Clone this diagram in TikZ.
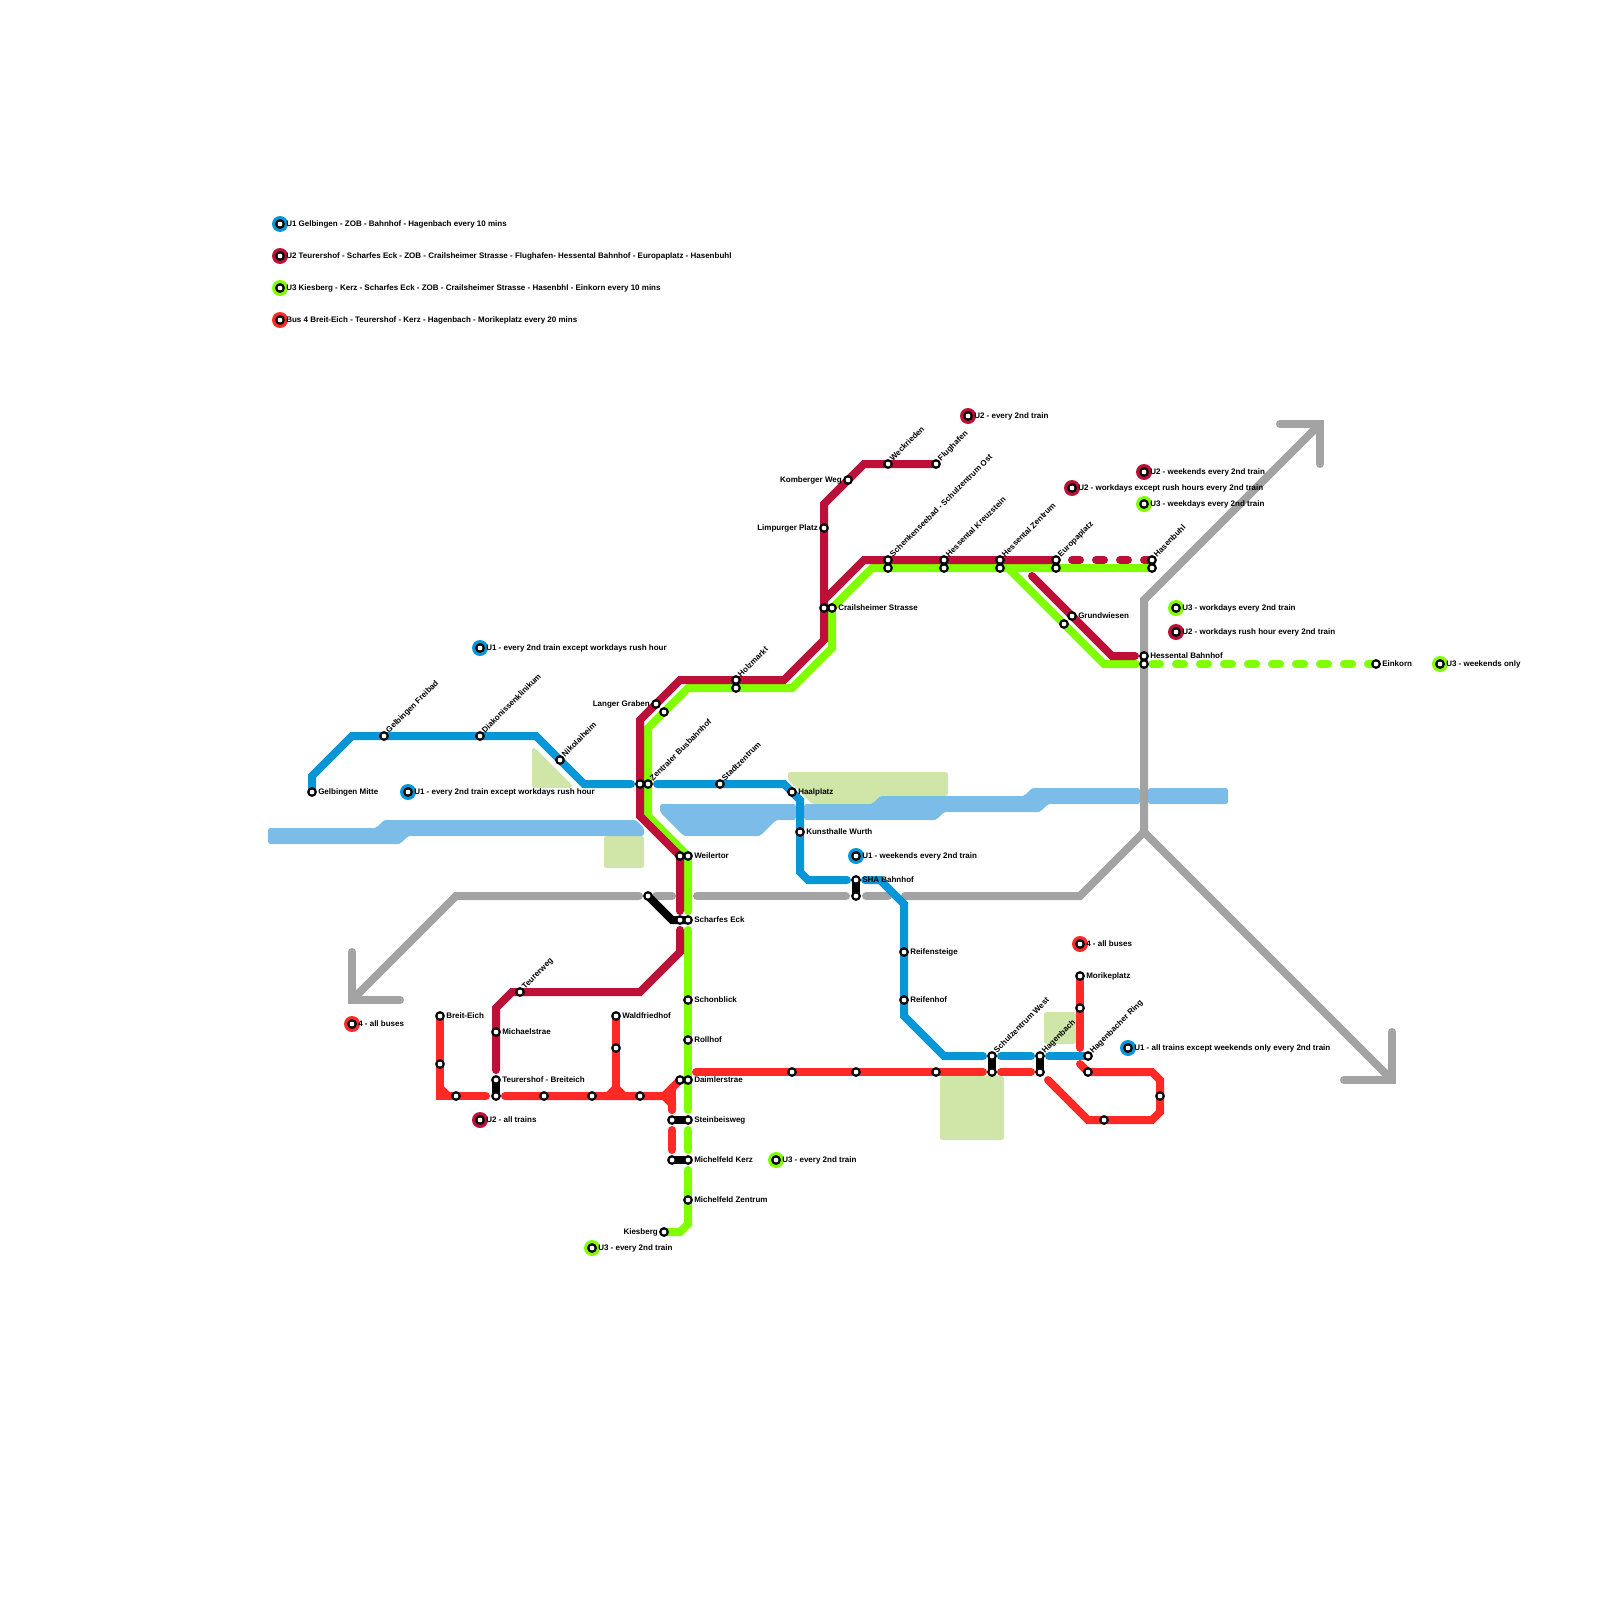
\documentclass[tikz,border=0pt]{standalone}
\usepackage{fontspec}
\setmainfont{Liberation Sans}
\usetikzlibrary{backgrounds}
\definecolor{cuone}{HTML}{0896D7}
\definecolor{cutwo}{HTML}{BD1038}
\definecolor{cuthree}{HTML}{80FF00}
\definecolor{cbus}{HTML}{FF2A26}
\definecolor{cgrey}{HTML}{A3A3A3}
\definecolor{cwater}{HTML}{7BBDE8}
\definecolor{cpark}{HTML}{D0E6A8}
\tikzset{
  x=1pt,y=-1pt,
  stn/.style={circle,draw=black,fill=white,line width=2.2pt,minimum size=7.5pt,inner sep=0pt,outer sep=0pt},
  lblbase/.style={font=\fontsize{8}{8}\selectfont\bfseries,inner sep=0pt,text height=6pt,text depth=2pt,text=black},
  lblr/.style={lblbase,anchor=west},
  lbll/.style={lblbase,anchor=east},
  lblu/.style={lblbase,anchor=west,xshift=1pt,yshift=-1pt,rotate=45},
  label distance=2.3pt,
  track/.style={line width=8pt,line cap=round,line join=miter},
  lone/.style={track,draw=cuone},
  ltwo/.style={track,draw=cutwo},
  lthree/.style={track,draw=cuthree},
  lbus/.style={track,draw=cbus},
  lgrey/.style={track,draw=cgrey},
  link/.style={line width=8pt,line cap=butt,line join=miter,draw=black},
  dashes/.style={dash pattern=on 8pt off 16pt},
  water/.style={fill=cwater,rounded corners=2.5pt},
  park/.style={fill=cpark,rounded corners=2.5pt},
  disc/.style={circle,minimum size=16pt,inner sep=0pt,outer sep=0pt},
}
\newcommand\stR[4]{\node[stn,label={[lblr]right:#4}] (#1) at (#2,#3) {};}
\newcommand\stL[4]{\node[stn,label={[lbll]left:#4}] (#1) at (#2,#3) {};}
\newcommand\stU[4]{\node[stn,label={[lblu]45:#4}] (#1) at (#2,#3) {};}
\newcommand\stN[3]{\node[stn] (#1) at (#2,#3) {};}
\newcommand\leg[5]{\node[disc,fill=#2] (d#1) at (#3,#4) {};\stR{#1}{#3}{#4}{#5}}
\begin{document}
\begin{tikzpicture}
\useasboundingbox (0,0) rectangle (1600,1600);

% legend
\leg{la}{cuone}{280}{224}{U1 Gelbingen - ZOB - Bahnhof - Hagenbach every 10 mins}
\leg{lb}{cutwo}{280}{256}{U2 Teurershof - Scharfes Eck - ZOB - Crailsheimer Strasse - Flughafen- Hessental Bahnhof - Europaplatz - Hasenbuhl}
\leg{lc}{cuthree}{280}{288}{U3 Kiesberg - Kerz - Scharfes Eck - ZOB - Crailsheimer Strasse - Hasenbhl - Einkorn every 10 mins}
\leg{ld}{cbus}{280}{320}{Bus 4 Breit-Eich - Teurershof - Kerz - Hagenbach - Morikeplatz every 20 mins}
\leg{ne}{cuone}{480}{648}{U1 - every 2nd train except workdays rush hour}
\leg{nf}{cuone}{408}{792}{U1 - every 2nd train except workdays rush hour}
\leg{ng}{cuone}{856}{856}{U1 - weekends every 2nd train}
\leg{nh}{cutwo}{480}{1120}{U2 - all trains}
\leg{ni}{cbus}{352}{1024}{4 - all buses}
\leg{nj}{cuthree}{592}{1248}{U3 - every 2nd train}
\leg{nk}{cuthree}{776}{1160}{U3 - every 2nd train}
\leg{nl}{cbus}{1080}{944}{4 - all buses}
\leg{nm}{cuone}{1128}{1048}{U1 - all trains except weekends only every 2nd train}
\leg{nn}{cutwo}{968}{416}{U2 - every 2nd train}
\leg{no}{cutwo}{1144}{472}{U2 - weekends every 2nd train}
\leg{np}{cutwo}{1072}{488}{U2 - workdays except rush hours every 2nd train}
\leg{nq}{cuthree}{1144}{504}{U3 - weekdays every 2nd train}
\leg{nr}{cuthree}{1176}{608}{U3 - workdays every 2nd train}
\leg{ns}{cutwo}{1176}{632}{U2 - workdays rush hour every 2nd train}
\leg{nt}{cuthree}{1440}{664}{U3 - weekends only}

% stations
\stR{gelbmitte}{312}{792}{Gelbingen Mitte}
\stU{freibad}{384}{736}{Gelbingen Freibad}
\stU{diakon}{480}{736}{Diakonissenklinikum}
\stU{nikolai}{560}{760}{Nikolaiheim}
\stN{zobA}{640}{784}
\stU{zobB}{648}{784}{Zentraler Busbahnhof}
\stU{stadtz}{720}{784}{Stadtzentrum}
\stR{haal}{792}{792}{Haalplatz}
\stR{kunst}{800}{832}{Kunsthalle Wurth}
\stR{sha}{856}{880}{SHA Bahnhof}
\stN{shaB}{856}{896}
\stR{reifens}{904}{952}{Reifensteige}
\stR{reifenh}{904}{1000}{Reifenhof}
\stU{schulW}{992}{1056}{Schulzentrum West}
\stN{schulWb}{992}{1072}
\stU{hagen}{1040}{1056}{Hagenbach}
\stN{hagenb}{1040}{1072}
\stU{hagring}{1088}{1056}{Hagenbacher Ring}
\stN{hagringb}{1088}{1072}

\stL{langer}{656}{704}{Langer Graben}
\stN{langerb}{664}{712}
\stU{holz}{736}{680}{Holzmarkt}
\stN{holzb}{736}{688}
\stN{weilA}{680}{856}
\stR{weilB}{688}{856}{Weilertor}
\stN{bahnlink}{648}{896}
\stN{eckA}{680}{920}
\stR{eckB}{688}{920}{Scharfes Eck}
\stR{schon}{688}{1000}{Schonblick}
\stR{roll}{688}{1040}{Rollhof}
\stN{daimA}{680}{1080}
\stR{daimB}{688}{1080}{Daimlerstrae}
\stN{steinA}{672}{1120}
\stR{steinB}{688}{1120}{Steinbeisweg}
\stN{kerzA}{672}{1160}
\stR{kerzB}{688}{1160}{Michelfeld Kerz}
\stR{mzent}{688}{1200}{Michelfeld Zentrum}
\stL{kies}{664}{1232}{Kiesberg}

\stU{teurerw}{520}{992}{Teurerweg}
\stR{michael}{496}{1032}{Michaelstrae}
\stR{teurA}{496}{1080}{Teurershof - Breiteich}
\stN{teurB}{496}{1096}
\stR{breit}{440}{1016}{Breit-Eich}
\stN{rb}{440}{1064}
\stN{rc}{456}{1096}
\stN{rd}{544}{1096}
\stN{re}{592}{1096}
\stN{rf}{640}{1096}
\stR{wald}{616}{1016}{Waldfriedhof}
\stN{waldb}{616}{1048}
\stN{rg}{792}{1072}
\stN{rh}{856}{1072}
\stN{ri}{936}{1072}
\stR{mori}{1080}{976}{Morikeplatz}
\stN{morib}{1080}{1008}
\stN{rj}{1160}{1096}
\stN{rk}{1104}{1120}

\stU{wecks}{888}{464}{Weckrieden}
\stU{flug}{936}{464}{Flughafen}
\stL{komb}{848}{480}{Komberger Weg}
\stL{limp}{824}{528}{Limpurger Platz}
\stN{crailA}{824}{608}
\stR{crailB}{832}{608}{Crailsheimer Strasse}
\stU{schenk}{888}{560}{Schenkenseebad - Schulzentrum Ost}
\stN{schenkb}{888}{568}
\stU{kreuz}{944}{560}{Hessental Kreuzstein}
\stN{kreuzb}{944}{568}
\stU{hzent}{1000}{560}{Hessental Zentrum}
\stN{hzentb}{1000}{568}
\stU{euro}{1056}{560}{Europaplatz}
\stN{eurob}{1056}{568}
\stU{hasen}{1152}{560}{Hasenbuhl}
\stN{hasenb}{1152}{568}
\stR{grund}{1072}{616}{Grundwiesen}
\stN{grundb}{1064}{624}
\stR{hbfA}{1144}{656}{Hessental Bahnhof}
\stN{hbfB}{1144}{664}
\stR{eink}{1376}{664}{Einkorn}

\begin{pgfonlayer}{background}
% water and parks
\fill[park] (532,748) -- (535,748) -- (572,785) -- (572,788) -- (532,788) -- cycle;
\fill[park] (604,836) rectangle (644,868);
\fill[park] (788,772) -- (948,772) -- (948,796) -- (880,796) -- (872,804) -- (812,804) -- (788,780) -- cycle;
\fill[park] (940,1076) rectangle (1004,1140);
\fill[park] (1044,1012) rectangle (1076,1044);
\fill[water] (268,828) -- (376,828) -- (384,820) -- (636,820) -- (644,828) -- (644,836) -- (408,836) -- (400,844) -- (268,844) -- cycle;
\fill[water] (660,804) -- (796,804) -- (796,820) -- (776,820) -- (760,836) -- (684,836) -- (660,812) -- cycle;
\fill[water] (804,804) -- (872,804) -- (880,796) -- (1024,796) -- (1032,788) -- (1140,788) -- (1140,804) -- (1048,804) -- (1040,812) -- (944,812) -- (936,820) -- (804,820) -- cycle;
\fill[water] (1148,788) rectangle (1228,804);

% grey rail
\draw[lgrey] (400,1000) -- (352,1000) -- (352,952);
\draw[lgrey] (352,1000) -- (456,896) -- (639,896);
\draw[lgrey] (656,896) -- (672,896);
\draw[lgrey] (697,896) -- (846,896);
\draw[lgrey] (866,896) -- (888,896);
\draw[lgrey] (905,896) -- (1080,896) -- (1144,832) -- (1392,1080);
\draw[lgrey] (1344,1080) -- (1392,1080) -- (1392,1032);
\draw[lgrey] (1144,832) -- (1144,600) -- (1320,424);
\draw[lgrey] (1280,424) -- (1320,424) -- (1320,464);

% U3
\draw[lthree] (kies.center) -- (680,1232) -- (688,1224) -- (688,1170);
\draw[lthree] (688,1150) -- (688,1130);
\draw[lthree] (688,1110) -- (688,930);
\draw[lthree] (688,911) -- (weilB.center) -- (648,816) -- (648,728) -- (688,688) -- (792,688) -- (832,648) -- (crailB.center) -- (872,568) -- (hasenb.center);
\draw[lthree] (1008,568) -- (1104,664) -- (1136,664);
\draw[lthree,dashes] (1152,664) -- (eink.center);

% U2
\draw[ltwo] (496,1070) -- (496,1008) -- (512,992) -- (640,992) -- (680,952) -- (680,930);
\draw[ltwo] (680,911) -- (weilA.center) -- (640,816) -- (640,720) -- (680,680) -- (784,680) -- (824,640) -- (824,504) -- (864,464) -- (flug.center);
\draw[ltwo] (824,600) -- (864,560) -- (euro.center);
\draw[ltwo,dashes] (1072,560) -- (hasen.center);
\draw[ltwo] (1032,576) -- (1112,656) -- (1135,656);

% U1
\draw[lone] (gelbmitte.center) -- (312,776) -- (352,736) -- (536,736) -- (584,784) -- (631,784);
\draw[lone] (657,784) -- (784,784) -- (800,800) -- (800,872) -- (808,880) -- (847,880);
\draw[lone] (865,880) -- (880,880) -- (904,904) -- (904,1016) -- (944,1056) -- (983,1056);
\draw[lone] (1001,1056) -- (1031,1056);
\draw[lone] (1049,1056) -- (hagring.center);

% Bus 4
\draw[lbus] (breit.center) -- (440,1096) -- (486,1096);
\draw[lbus] (440,1088) -- (448,1096);
\draw[lbus] (505,1096) -- (664,1096) -- (daimA.center);
\draw[lbus] (664,1096) -- (672,1104) -- (672,1110);
\draw[lbus] (672,1088) -- (672,1110);
\draw[lbus] (672,1130) -- (672,1150);
\draw[lbus] (wald.center) -- (616,1096);
\draw[lbus] (608,1096) -- (616,1088) -- (624,1096);
\draw[lbus] (696,1072) -- (983,1072);
\draw[lbus] (1001,1072) -- (1031,1072);
\draw[lbus] (1048,1080) -- (1088,1120) -- (1152,1120) -- (1160,1112) -- (1160,1080) -- (1152,1072) -- (hagringb.center) -- (1080,1064);
\draw[lbus] (mori.center) -- (1080,1048);

% transfers
\draw[link] (teurA.center) -- (teurB.center);
\draw[link] (steinA.center) -- (steinB.center);
\draw[link] (kerzA.center) -- (kerzB.center);
\draw[link] (bahnlink.center) -- (672,920) -- (eckB.center);
\draw[link] (sha.center) -- (shaB.center);
\draw[link] (schulW.center) -- (schulWb.center);
\draw[link] (hagen.center) -- (hagenb.center);
\end{pgfonlayer}
\end{tikzpicture}
\end{document}
